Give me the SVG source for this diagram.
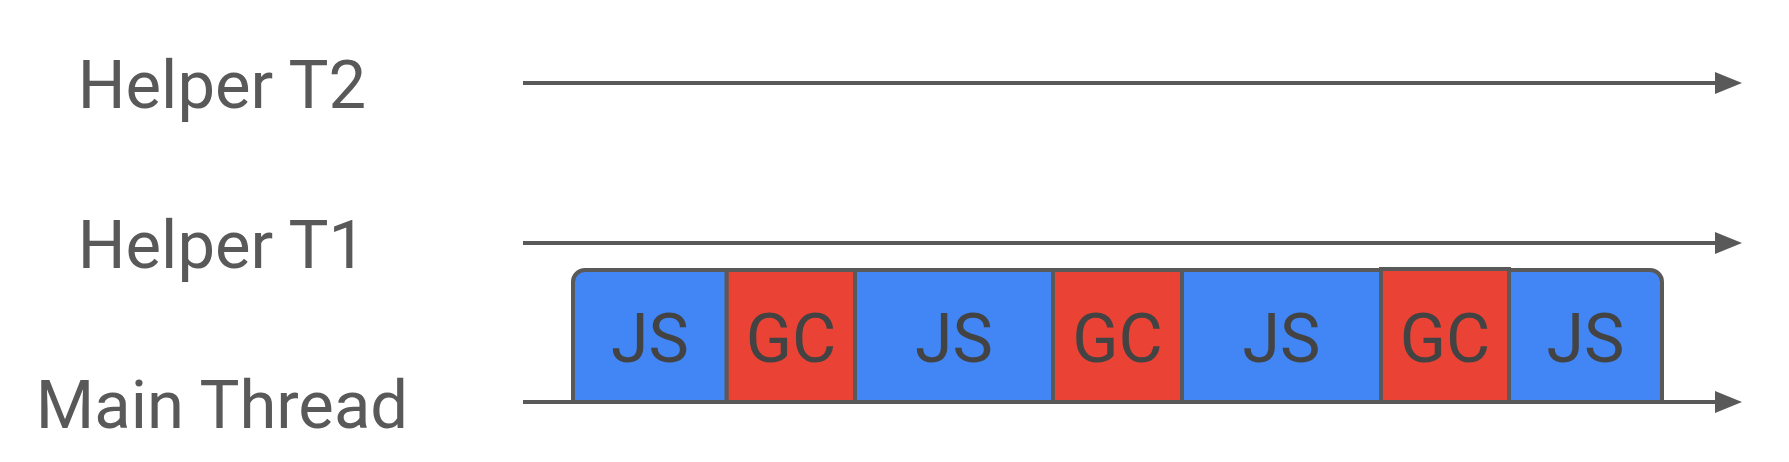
<svg xmlns="http://www.w3.org/2000/svg" width="1789" height="462" viewBox="0 0 1789 462">
  <defs>
    <marker id="arrow" markerUnits="userSpaceOnUse" viewBox="0 0 27 22" markerWidth="27" markerHeight="22" refX="1" refY="11" orient="auto">
      <polygon points="0,0 27,11 0,22" fill="#595959"/>
    </marker>
    <style>
      .label { font-family: Roboto, "Liberation Sans", sans-serif; font-size: 67px; fill: #595959; text-anchor: middle; }
      .seg-text { font-family: Roboto, "Liberation Sans", sans-serif; font-size: 68px; fill: #434343; text-anchor: middle; }
      .js { fill: #4285F4; stroke: #595959; stroke-width: 4; }
      .gc { fill: #EA4335; stroke: #595959; stroke-width: 4; }
      .axis { stroke: #595959; stroke-width: 4; fill: none; marker-end: url(#arrow); }
    </style>
  </defs>
  <rect width="1789" height="462" fill="#ffffff"/>

  <g id="labels">
    <g id="label-t2"><text class="label" x="222" y="108">Helper T2</text></g>
    <g id="label-t1"><text class="label" x="222" y="268">Helper T1</text></g>
    <g id="label-main"><text class="label" x="222" y="428">Main Thread</text></g>
  </g>

  <g id="connectors">
    <line class="axis" x1="523" y1="83" x2="1716" y2="83"/>
    <line class="axis" x1="523" y1="243" x2="1716" y2="243"/>
    <line class="axis" x1="523" y1="402" x2="1716" y2="402"/>
  </g>

  <g id="seg1">
    <path class="js" d="M573,402 V282 A12,12 0 0 1 585,270 H726.7 V402 Z"/>
    <text class="seg-text" x="650" y="362">JS</text>
  </g>
  <g id="seg2">
    <rect class="gc" x="726.7" y="270" width="128.3" height="132"/>
    <text class="seg-text" x="791" y="362">GC</text>
  </g>
  <g id="seg3">
    <rect class="js" x="855" y="270" width="198" height="132"/>
    <text class="seg-text" x="954" y="362">JS</text>
  </g>
  <g id="seg4">
    <rect class="gc" x="1053" y="270" width="129" height="132"/>
    <text class="seg-text" x="1117.5" y="362">GC</text>
  </g>
  <g id="seg5">
    <rect class="js" x="1182" y="270" width="199" height="132"/>
    <text class="seg-text" x="1281.5" y="362">JS</text>
  </g>
  <g id="seg6">
    <rect class="gc" x="1381" y="269" width="128" height="133"/>
    <text class="seg-text" x="1445" y="362">GC</text>
  </g>
  <g id="seg7">
    <path class="js" d="M1509,270 H1650 A12,12 0 0 1 1662,282 V402 H1509 Z"/>
    <text class="seg-text" x="1585.5" y="362">JS</text>
  </g>
</svg>
